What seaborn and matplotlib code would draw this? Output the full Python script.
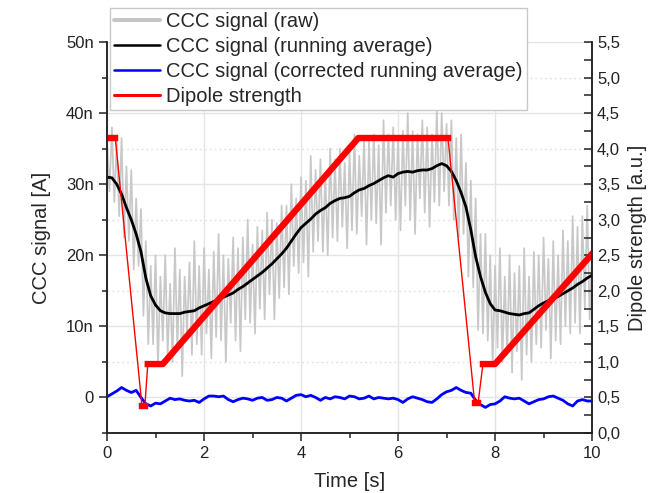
import numpy as np
import pandas as pd
import matplotlib
matplotlib.use("Agg")
import matplotlib.pyplot as plt
from matplotlib.ticker import FuncFormatter, MultipleLocator
from matplotlib.lines import Line2D
import seaborn as sns

# ---------------- data (CCC in nA, time in s) ----------------
raw_t = [round(0.05 * i, 2) for i in range(201)]
raw_v = [36, 29, 38, 27.5, 36, 25.5, 36.5, 22.5, 32.5, 22, 32, 18, 28, 18.5, 26.5, 11.5, 22, 7.5, 18.5, 7.5,
         20, 4.5, 17, 8, 20, 6, 16, 5, 21, 7, 18, 3, 17, 9, 19, 6, 22, 7.5, 18.5, 6,
         21, 9, 18, 5.5, 20.5, 8.5, 23, 8, 20, 5, 19.5, 10.5, 22.5, 8, 21, 6.5, 22.5, 11, 25, 10.5,
         21.5, 9, 24, 12.5, 23.5, 11, 26, 14.5, 25, 11, 24.5, 14, 27, 15.5, 27, 14.5, 30, 18.5, 28, 17.5,
         31, 19, 30.5, 17, 34, 20.5, 32, 22, 33.5, 20.5, 31.5, 20, 35, 22.5, 33.5, 22, 35, 24, 33, 21,
         34.5, 23.5, 37, 23, 34, 25.5, 36.5, 21.5, 36, 25, 37, 24.5, 35.5, 21.5, 39, 26, 37, 27, 38, 25,
         36.5, 23.5, 37.5, 27, 40, 25, 37.5, 23, 37, 28, 39, 26, 38, 24, 37, 27.5, 40.5, 27, 40, 29,
         38.5, 27, 39, 25, 36.5, 22.5, 37, 23, 33, 17, 30.5, 15.5, 28, 9.5, 23, 9, 23, 8, 20, 4.5,
         18.5, 7, 21, 5, 17, 6, 20, 3.5, 17.5, 6.5, 18.5, 2.5, 21, 6, 17, 5, 20.5, 7.5, 20, 7,
         22.5, 9.5, 19.5, 5.5, 22, 8, 20, 7.5, 23.5, 10, 22, 9, 25.5, 10.5, 24, 9, 25.5, 12.5, 27, 11,
         21]

avg_t = [round(0.1 * i, 1) for i in range(101)]
avg_v = [31.0, 30.9, 30.0, 28.6, 26.7, 25.0, 23.0, 20.5, 16.8, 14.3,
         13.0, 12.2, 11.9, 11.8, 11.8, 11.8, 12.0, 12.1, 12.2, 12.6,
         12.9, 13.2, 13.5, 13.8, 14.1, 14.4, 14.7, 15.2, 15.6, 16.1,
         16.6, 17.1, 17.6, 18.2, 18.8, 19.5, 20.2, 21.0, 22.0, 23.0,
         23.9, 24.5, 25.1, 25.8, 26.3, 26.7, 27.3, 27.7, 28.0, 28.1,
         28.3, 28.8, 29.2, 29.4, 29.8, 30.1, 30.5, 30.9, 31.2, 31.0,
         31.5, 31.7, 31.8, 31.7, 31.9, 32.0, 32.0, 32.2, 32.6, 32.9,
         32.6, 31.8, 30.5, 28.8, 26.8, 23.6, 19.8, 17.0, 14.8, 13.2,
         12.3, 12.2, 12.0, 11.8, 11.7, 11.6, 11.8, 11.9, 12.4, 12.9,
         13.3, 13.6, 13.9, 14.2, 14.6, 15.0, 15.4, 15.9, 16.3, 16.8,
         17.2]

corr_t = avg_t
corr_v = [0.1, 0.5, 0.9, 1.4, 1.0, 0.7, 1.0, 0.0, -0.9, -1.2,
          -0.8, -0.9, -0.5, -0.1, -0.3, -0.2, -0.4, -0.5, -0.4, -0.7,
          -0.2, 0.2, 0.2, 0.1, 0.2, -0.3, -0.6, -0.3, -0.1, -0.2,
          -0.4, -0.1, 0.0, -0.4, -0.3, 0.0, -0.1, -0.5, -0.1, 0.3,
          0.4, 0.1, 0.3, 0.0, -0.4, 0.0, -0.2, 0.1, 0.0, -0.2,
          0.2, 0.1, -0.2, -0.1, 0.2, -0.2, 0.0, -0.1, -0.2, -0.1,
          -0.3, -0.7, -0.2, 0.1, -0.1, -0.3, -0.6, -0.7, -0.2, 0.4,
          0.8, 1.0, 1.4, 1.0, 0.7, 0.6, -0.4, -1.0, -1.4, -1.0,
          -0.9, -0.5, 0.1, -0.1, -0.2, -0.1, -0.5, -0.9, -0.6, -0.3,
          -0.2, 0.1, 0.2, -0.1, -0.4, -0.9, -1.2, -0.5, -0.3, -0.5,
          -0.5]

dip_t = [0.0, 0.17, 0.72, 0.78, 0.84, 1.15, 5.18, 7.03, 7.58, 7.65, 7.75, 8.0, 10.0]
dip_v = [4.15, 4.15, 0.38, 0.38, 0.97, 0.97, 4.15, 4.15, 0.42, 0.42, 0.97, 0.97, 2.52]
# index ranges of the slowly-varying (densely sampled, thick) parts of the dipole curve
thick_parts = [(0, 1), (2, 3), (4, 7), (8, 9), (10, 12)]

labels = ["CCC signal (raw)", "CCC signal (running average)",
          "CCC signal (corrected running average)", "Dipole strength"]

# ---------------- styling ----------------
sns.set_style("ticks")
plt.rcParams["font.family"] = ["Liberation Sans", "DejaVu Sans"]
plt.rcParams["axes.edgecolor"] = "#222222"

fig = plt.figure(figsize=(6.69, 4.93), dpi=100)
ax = fig.add_axes([0.160, 0.1217, 0.725, 0.793])
ax2 = ax.twinx()

df_raw = pd.DataFrame({"t": raw_t, "v": raw_v})
df_avg = pd.DataFrame({"t": avg_t, "v": avg_v})
df_cor = pd.DataFrame({"t": corr_t, "v": corr_v})
df_dip = pd.DataFrame({"t": dip_t, "v": dip_v})

sns.lineplot(data=df_raw, x="t", y="v", ax=ax, color="#c8c8c8", lw=1.25, estimator=None, sort=False, zorder=2)
sns.lineplot(data=df_avg, x="t", y="v", ax=ax, color="black", lw=2.0, estimator=None, sort=False, zorder=3)
sns.lineplot(data=df_cor, x="t", y="v", ax=ax, color="#0000ff", lw=2.0, estimator=None, sort=False, zorder=3)

sns.lineplot(data=df_dip, x="t", y="v", ax=ax2, color="#ff0000", lw=1.0, estimator=None, sort=False)
for a, b in thick_parts:
    sns.lineplot(data=df_dip.iloc[a:b + 1], x="t", y="v", ax=ax2, color="#ff0000", lw=4.6,
                 estimator=None, sort=False, solid_capstyle="projecting")

# axes limits and ticks
ax.set_xlim(0, 10)
ax.set_ylim(-5, 50)
ax2.set_ylim(0, 5.5)
ax.xaxis.set_major_locator(MultipleLocator(2))
ax.xaxis.set_minor_locator(MultipleLocator(1))
ax.yaxis.set_major_locator(MultipleLocator(10))
ax.yaxis.set_minor_locator(MultipleLocator(5))
ax2.yaxis.set_major_locator(MultipleLocator(0.5))
ax2.yaxis.set_minor_locator(MultipleLocator(0.25))
ax.yaxis.set_major_formatter(FuncFormatter(lambda v, p: "0" if abs(v) < 1e-9 else f"{v:.0f}n"))
ax2.yaxis.set_major_formatter(FuncFormatter(lambda v, p: f"{v:.1f}".replace(".", ",")))

ax.tick_params(axis="both", which="major", direction="out", length=6, width=1.1, labelsize=12, colors="#222222")
ax.tick_params(axis="both", which="minor", direction="out", length=3.5, width=1.1, colors="#222222")
ax2.tick_params(axis="y", which="major", direction="in", length=6, width=1.1, labelsize=12, colors="#222222")
ax2.tick_params(axis="y", which="minor", direction="in", length=6, width=1.1, colors="#222222")

# grid
ax.grid(True, which="major", color="#e4e4e4", lw=1.0)
ax.grid(True, which="minor", axis="y", color="#e4e4e4", lw=1.0, ls=(0, (1.5, 2)))
ax.set_axisbelow(True)

ax.spines["top"].set_visible(False)
ax2.spines["top"].set_visible(False)
for a_ in (ax, ax2):
    for s in a_.spines.values():
        s.set_linewidth(1.1)

ax.set_xlabel("Time [s]", fontsize=14.5, labelpad=8)
ax.set_ylabel("CCC signal [A]", fontsize=14.5, labelpad=11)
ax2.set_ylabel("Dipole strength [a.u.]", fontsize=14.5, labelpad=6)

# legend
handles = [Line2D([], [], color="#c4c4c4", lw=2.8),
           Line2D([], [], color="black", lw=1.8),
           Line2D([], [], color="#0000ff", lw=1.8),
           Line2D([], [], color="#ff0000", lw=2.2)]
leg = ax2.legend(handles, labels, loc="upper left", bbox_to_anchor=(0.006, 1.087),
                 borderaxespad=0, fontsize=14.5, frameon=True, fancybox=False,
                 framealpha=1, edgecolor="#c8c8c8", handlelength=2.3, handletextpad=0.3,
                 labelspacing=0.3, borderpad=0.2)
leg.get_frame().set_linewidth(1.0)
leg.set_zorder(10)

fig.savefig("out.png", dpi=100)
